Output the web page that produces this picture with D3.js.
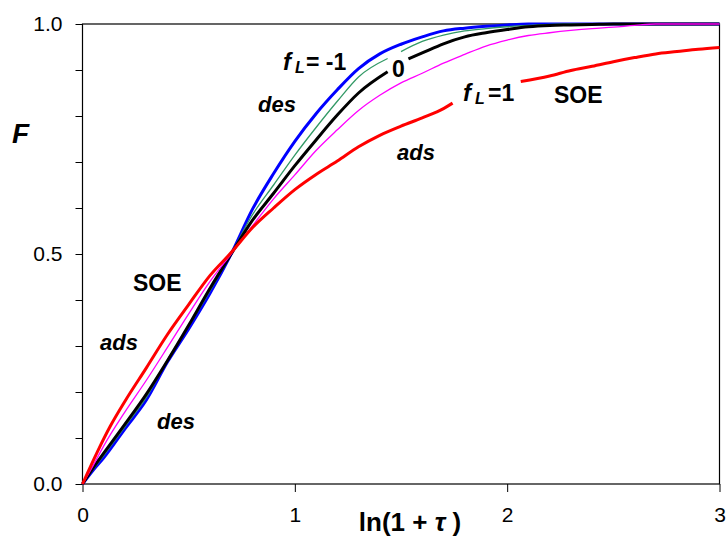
<!DOCTYPE html>
<html><head><meta charset="utf-8">
<script src="https://cdn.jsdelivr.net/npm/d3@7"></script>
<style>
body{margin:0;background:#fff}
svg{display:block}
text{font-family:"Liberation Sans",Arial,Helvetica,sans-serif;fill:#000}
</style>
</head><body>
<svg id="c" width="726" height="538"></svg>
<script>
// ---- data ----
const blueX = [0,0.05,0.1,0.2,0.3,0.4,0.5,0.6,0.7,0.8,0.9,1.0,1.1,1.2,1.3,1.4,1.5,1.6,1.7,1.8,1.9,2.0,2.1,3.0];
const blueF = [0,0.03,0.057,0.12,0.182,0.265,0.337,0.414,0.5,0.597,0.675,0.745,0.805,0.857,0.903,0.935,0.956,0.972,0.985,0.991,0.995,0.998,1,1];

const greenX = [0,0.05,0.1,0.2,0.3,0.4,0.5,0.6,0.7,0.8,0.9,1.0,1.1,1.2,1.3,1.437,1.47,1.5,1.6,1.7,1.8,1.9,2.0,2.1,2.2,2.3,3.0];
const greenF = [0,0.032,0.062,0.125,0.188,0.27,0.343,0.42,0.5,0.585,0.65,0.715,0.775,0.832,0.885,0.925,null,0.94,0.962,0.976,0.985,0.99,0.994,0.997,0.999,1,1];

const blackX = [0,0.05,0.1,0.2,0.3,0.4,0.5,0.6,0.7,0.8,0.9,1.0,1.1,1.2,1.3,1.437,1.48,1.535,1.6,1.7,1.8,1.9,2.0,2.1,2.2,2.3,2.4,2.5,3.0];
const blackF = [0,0.035,0.067,0.13,0.195,0.268,0.345,0.425,0.5,0.573,0.632,0.692,0.748,0.802,0.85,0.896,null,0.924,0.937,0.957,0.972,0.981,0.988,0.994,0.997,0.998,0.999,1,1];

const magentaX = [0,0.05,0.1,0.2,0.3,0.4,0.5,0.6,0.7,0.8,0.9,1.0,1.1,1.2,1.3,1.4,1.5,1.6,1.7,1.8,1.9,2.0,2.1,2.2,2.3,2.4,2.5,2.6,2.7,3.0];
const magentaF = [0,0.04,0.083,0.157,0.225,0.297,0.37,0.44,0.5,0.561,0.62,0.672,0.725,0.77,0.812,0.845,0.872,0.893,0.915,0.934,0.952,0.965,0.975,0.981,0.986,0.99,0.993,0.997,1,1];

const redX = [0,0.07,0.13,0.2,0.3,0.4,0.5,0.6,0.7,0.8,0.9,1.0,1.1,1.2,1.3,1.4,1.5,1.6,1.7,1.743,1.9,2.064,2.2,2.3,2.4,2.5,2.6,2.7,2.8,2.9,3.0];
const redF = [0,0.07,0.125,0.18,0.252,0.325,0.39,0.453,0.503,0.557,0.6,0.64,0.673,0.702,0.733,0.758,0.778,0.796,0.816,0.828,null,0.875,0.887,0.899,0.908,0.918,0.927,0.935,0.94,0.945,0.949];

const xTickValues = [0,1,2,3];
const yTickValues = [0,0.1,0.2,0.3,0.4,0.5,0.6,0.7,0.8,0.9,1.0];
const yTickLabels = {"0":"0.0","0.5":"0.5","1":"1.0"};

// ---- series table ----
const series = [
  {xs: blueX, fs: blueF, color: "#0000ff", w: 3},
  {xs: greenX, fs: greenF, color: "#339966", w: 1.3},
  {xs: blackX, fs: blackF, color: "#000000", w: 3},
  {xs: magentaX, fs: magentaF, color: "#ff00ff", w: 1.3},
  {xs: redX, fs: redF, color: "#ff0000", w: 3}
];

const svg = d3.select("#c");
const L = 82.5, R = 719.5, T = 24, B = 484;
const x = d3.scaleLinear().domain([0,3]).range([L,R]);
const y = d3.scaleLinear().domain([0,1]).range([B,T]);

// axes
const gy = svg.append("g").attr("transform",`translate(${L},0)`)
  .call(d3.axisLeft(y).tickValues(yTickValues).tickSize(7).tickPadding(13)
    .tickFormat(d => yTickLabels[String(+d.toFixed(1))] || ""));
gy.select(".domain").remove();
gy.selectAll("line").attr("stroke","#000");
gy.selectAll("text").attr("font-size",21).attr("font-family","Liberation Sans, Arial, sans-serif");

const gx = svg.append("g").attr("transform",`translate(0,${B})`)
  .call(d3.axisBottom(x).tickValues(xTickValues).tickSize(8).tickPadding(15).tickFormat(d3.format("d")));
gx.select(".domain").remove();
gx.selectAll("line").attr("stroke","#000");
gx.selectAll("text").attr("font-size",21).attr("font-family","Liberation Sans, Arial, sans-serif");

// frame
svg.append("rect").attr("x",L).attr("y",T).attr("width",R-L).attr("height",B-T)
  .attr("fill","none").attr("stroke","#000").attr("stroke-width",1.2);

// lines
const line = d3.line().defined(d => d[1] !== null).x(d => x(d[0])).y(d => y(d[1]))
  .curve(d3.curveMonotoneX);
series.forEach(s => {
  const pts = s.xs.map((v,i) => [v, s.fs[i]]);
  svg.append("path").attr("d", line(pts)).attr("fill","none")
    .attr("stroke", s.color).attr("stroke-width", s.w).attr("stroke-linejoin","round");
});

// axis titles
svg.append("text").attr("x",12).attr("y",143).attr("font-size",28)
  .attr("font-weight","bold").attr("font-style","italic").text("F");
const xt = svg.append("text").attr("x",410).attr("y",531).attr("text-anchor","middle")
  .attr("font-size",26).attr("font-weight","bold");
xt.append("tspan").text("ln(1 + ");
xt.append("tspan").attr("font-style","italic").text("τ");
xt.append("tspan").text(" )");

// annotations
function fL(x0, base, rest, restX) {
  svg.append("text").attr("x",x0).attr("y",base).attr("font-size",24)
    .attr("font-weight","bold").attr("font-style","italic").text("f");
  svg.append("text").attr("x",x0+12).attr("y",base+3).attr("font-size",16)
    .attr("font-weight","bold").attr("font-style","italic").text("L");
  svg.append("text").attr("x",restX).attr("y",base).attr("font-size",23)
    .attr("font-weight","bold").text(rest);
}
fL(283, 70, "= -1", 306);
fL(463, 101, "=1", 488);

const notes = [
  {t:"des", x:258, y:112, it:true, fs:22},
  {t:"0", x:392, y:77, it:false, fs:23},
  {t:"SOE", x:554, y:103, it:false, fs:23},
  {t:"ads", x:397, y:160, it:true, fs:22},
  {t:"SOE", x:133, y:291, it:false, fs:23},
  {t:"ads", x:100, y:350, it:true, fs:22},
  {t:"des", x:157, y:429, it:true, fs:22}
];
notes.forEach(n => {
  svg.append("text").attr("x",n.x).attr("y",n.y).attr("font-size",n.fs)
    .attr("font-weight","bold").attr("font-style", n.it ? "italic" : "normal").text(n.t);
});
</script>
</body></html>
